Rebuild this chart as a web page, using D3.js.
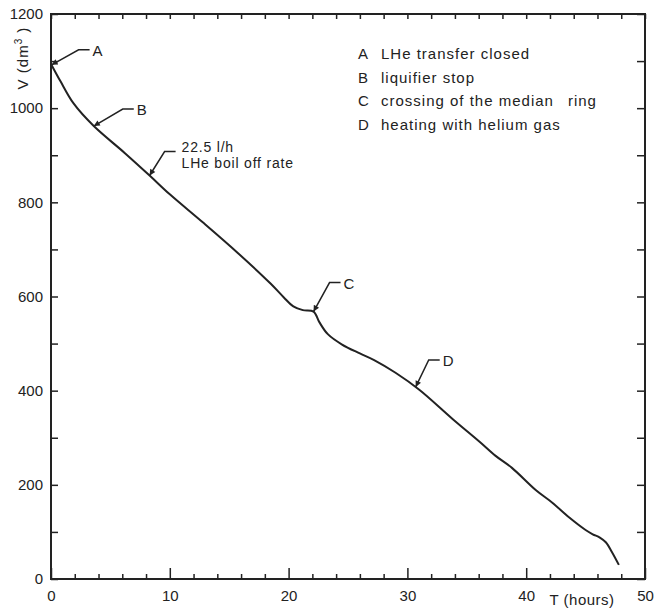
<!DOCTYPE html>
<html>
<head>
<meta charset="utf-8">
<script src="https://cdn.jsdelivr.net/npm/d3@7"></script>
<style>
  body { margin: 0; background: #fff; }
  text { font-family: "Liberation Sans", Arial, sans-serif; fill: #222; }
</style>
</head>
<body>
<div id="chart"></div>
<script>
// volume curve
const hours = [0, 0.8, 1.9, 3.6, 6.2, 8.3, 10.0, 12.8, 15.7, 18.5, 19.6, 20.4, 21.2, 22.1, 22.6, 23.3, 24.5, 26.0, 27.2, 29.0, 31.0, 33.8, 36.1, 37.4, 38.8, 40.8, 42.2, 43.6, 45.0, 45.6, 46.2, 46.7, 47.2, 47.8];
const volume = [1094, 1057, 1010, 962, 905, 857, 817, 757, 693, 627, 598, 579, 571, 568, 545, 520, 498, 479, 465, 438, 402, 340, 291, 262, 236, 189, 162, 131, 104, 95, 88, 78, 58, 30];

const xTicks = [0, 10, 20, 30, 40, 50];
const yTicks = [0, 200, 400, 600, 800, 1000, 1200];

// annotated points on the curve
const noteLabels = ['A', 'B', '', 'C', 'D'];
const noteHours = [0.05, 3.6, 8.3, 22.1, 30.7];
const noteVolume = [1092, 962, 857, 568, 408];
const boilText = ['22.5 l/h', 'LHe boil off rate'];

const legendKeys = ['A', 'B', 'C', 'D'];
const legendText = ['LHe transfer closed', 'liquifier stop', 'crossing of the median  ring', 'heating with helium gas'];

function draw () {
  const svgWidth = 654;
  const svgHeight = 612;
  const margin = { top: 14, right: 9, bottom: 33, left: 51 };
  const width = svgWidth - margin.left - margin.right;
  const height = svgHeight - margin.top - margin.bottom;
  const ink = '#222';

  const svg = d3.select('#chart').append('svg')
    .attr('width', svgWidth)
    .attr('height', svgHeight);

  svg.append('defs').append('marker')
    .attr('id', 'arrow')
    .attr('viewBox', '0 0 10 10')
    .attr('refX', 10).attr('refY', 5)
    .attr('markerWidth', 9).attr('markerHeight', 6)
    .attr('markerUnits', 'userSpaceOnUse')
    .attr('orient', 'auto')
    .append('path')
    .attr('d', 'M0,0L10,5L0,10z')
    .attr('fill', ink);

  const g = svg.append('g')
    .attr('transform', `translate(${margin.left}, ${margin.top})`);

  const x = d3.scaleLinear().domain([0, 50]).range([0, width]);
  const y = d3.scaleLinear().domain([0, 1200]).range([height, 0]);

  // inward ticks on all four sides
  const styleAxis = sel => {
    sel.select('.domain').remove();
    sel.selectAll('line').attr('stroke', ink).attr('stroke-width', 1.5);
  };
  const minorX = d3.range(0, 51, 2);
  const minorY = d3.range(0, 1201, 100);

  g.append('g')
    .attr('transform', `translate(0, ${height})`)
    .call(d3.axisBottom(x).tickValues(minorX.filter(d => d % 10)).tickSize(-5).tickFormat(''))
    .call(styleAxis);
  g.append('g')
    .attr('transform', `translate(0, ${height})`)
    .call(d3.axisBottom(x).tickValues(xTicks).tickSize(-11).tickPadding(11).tickFormat(d3.format('d')))
    .call(styleAxis)
    .call(a => a.selectAll('text').attr('font-size', 15).attr('fill', ink));
  g.append('g')
    .call(d3.axisTop(x).tickValues(minorX).tickSize(-5).tickFormat(''))
    .call(styleAxis);
  g.append('g')
    .call(d3.axisLeft(y).tickValues(minorY).tickSize(-7).tickPadding(8)
      .tickFormat(d => yTicks.includes(d) ? d : ''))
    .call(styleAxis)
    .call(a => a.selectAll('text').attr('font-size', 15).attr('fill', ink));
  g.append('g')
    .attr('transform', `translate(${width}, 0)`)
    .call(d3.axisRight(y).tickValues(minorY).tickSize(-8).tickFormat(''))
    .call(styleAxis);

  g.append('rect')
    .attr('width', width)
    .attr('height', height)
    .attr('fill', 'none')
    .attr('stroke', ink)
    .attr('stroke-width', 2);

  // axis titles
  const vLabel = svg.append('text')
    .attr('transform', 'translate(28, 58) rotate(-90)')
    .attr('text-anchor', 'middle')
    .attr('font-size', 15)
    .attr('letter-spacing', 1);
  vLabel.append('tspan').text('V (dm');
  vLabel.append('tspan').attr('dy', -6).attr('font-size', 10).text('3');
  vLabel.append('tspan').attr('dy', 6).text(' )');

  svg.append('text')
    .attr('x', margin.left + x(44.7))
    .attr('y', 605)
    .attr('text-anchor', 'middle')
    .attr('font-size', 15)
    .attr('letter-spacing', 0.5)
    .text('T (hours)');

  // the curve
  const points = hours.map((h, i) => ({ t: h, v: volume[i] }));
  const line = d3.line()
    .x(d => x(d.t))
    .y(d => y(d.v))
    .curve(d3.curveCatmullRom.alpha(0.5));

  g.append('path')
    .datum(points)
    .attr('fill', 'none')
    .attr('stroke', ink)
    .attr('stroke-width', 2)
    .attr('stroke-linejoin', 'round')
    .attr('d', line);

  // leader arrows: elbow offset and horizontal run (px)
  const elbow = [[27, -15], [29, -17], [15, -24], [16, -29], [13, -27]];
  const run = 11;
  noteLabels.forEach((lab, i) => {
    const tx = x(noteHours[i]);
    const ty = y(noteVolume[i]);
    const ex = tx + elbow[i][0];
    const ey = ty + elbow[i][1];
    g.append('path')
      .attr('d', `M${ex + run},${ey}L${ex},${ey}L${tx},${ty}`)
      .attr('fill', 'none')
      .attr('stroke', ink)
      .attr('stroke-width', 1.5)
      .attr('marker-end', 'url(#arrow)');
    if (lab) {
      g.append('text')
        .attr('x', ex + run + 3)
        .attr('y', ey + 6)
        .attr('font-size', 15)
        .text(lab);
    } else {
      g.selectAll(null)
        .data(boilText)
        .join('text')
        .attr('x', ex + run + 6)
        .attr('y', (d, j) => ey + 1 + j * 16)
        .attr('font-size', 14)
        .attr('letter-spacing', 0.8)
        .text(d => d);
    }
  });

  // key
  const key = g.append('g').attr('transform', 'translate(307, 45)');
  legendKeys.forEach((k, i) => {
    key.append('text')
      .attr('x', 0)
      .attr('y', i * 23.5)
      .attr('font-size', 15)
      .text(k);
    const parts = legendText[i].split('  ');
    const t = key.append('text')
      .attr('x', 23)
      .attr('y', i * 23.5)
      .attr('font-size', 15)
      .attr('letter-spacing', 1);
    parts.forEach((p, j) => {
      t.append('tspan').attr('dx', j ? 14 : 0).text(p);
    });
  });
}

draw();
</script>
</body>
</html>
